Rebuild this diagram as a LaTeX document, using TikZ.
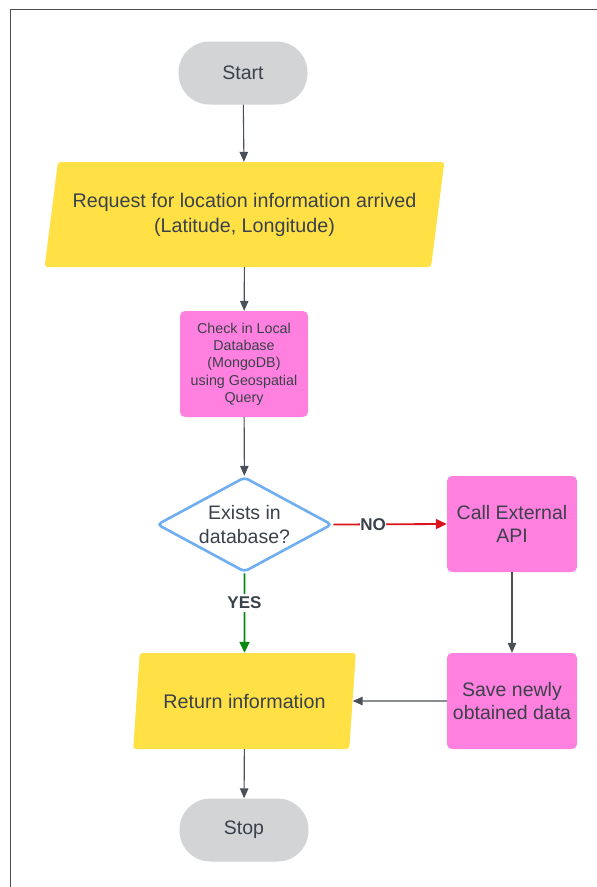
\documentclass[tikz,border=0pt]{standalone}
\usepackage{fontspec}
\setmainfont{Liberation Sans}
\usetikzlibrary{shapes.geometric,arrows.meta}

\definecolor{txt}{HTML}{3A414A}
\definecolor{lineclr}{HTML}{4A5059}
\definecolor{pillgray}{HTML}{D3D4D6}
\definecolor{ioyellow}{HTML}{FFE145}
\definecolor{procpink}{HTML}{FF80DF}
\definecolor{decblue}{HTML}{70AEF2}
\definecolor{noRed}{HTML}{D9141E}
\definecolor{yesGreen}{HTML}{0A8A12}

\tikzset{
  every node/.style={text=txt},
  terminal/.style={rectangle, rounded corners=31pt, fill=pillgray,
    minimum width=129pt, minimum height=63pt, font=\fontsize{19.5}{22}\selectfont},
  iobox/.style={trapezium, trapezium left angle=76, trapezium right angle=104,
    trapezium stretches=true, fill=ioyellow, rounded corners=3pt,
    font=\fontsize{19.7}{25}\selectfont, align=center},
  procbox/.style={rectangle, rounded corners=5pt, fill=procpink, align=center},
  decision/.style={diamond, aspect=1.84, draw=decblue, line width=2.6pt, fill=white,
    rounded corners=4pt, minimum width=175pt, minimum height=95pt, inner sep=-3pt,
    font=\fontsize{19.5}{24}\selectfont, align=center},
  flow/.style={draw=lineclr, line width=1.1pt,
    -{Triangle[length=10pt,width=8.5pt]}},
  branchflow/.style={line width=1.8pt, -{Triangle[length=11pt,width=10pt]}},
  branchlabel/.style={fill=white, font=\fontsize{17}{19}\selectfont\bfseries}
}

\begin{document}
\begin{tikzpicture}[x=1pt,y=-1pt]
  \clip (0,0) rectangle (597,887);
  \fill[white] (0,0) rectangle (597,887);
  % outer frame
  \draw[line width=1.4pt, color=black!70] (10.5,9.5) rectangle (620,910);

  % nodes
  \node[terminal] (start) at (243,73) {Start};
  \node[iobox, minimum width=401pt, minimum height=105pt] (req) at (244.5,214.5)
    {Request for location information arrived\\(Latitude, Longitude)};
  \node[procbox, minimum width=128pt, minimum height=106pt,
        font=\fontsize{14.3}{17.3}\selectfont] (check) at (244,364)
    {Check in Local\\Database\\(MongoDB)\\using Geospatial\\Query};
  \node[decision] (exists) at (244.5,524.5) {Exists in\\database?};
  \node[procbox, minimum width=130pt, minimum height=96pt,
        font=\fontsize{19.5}{23.5}\selectfont] (call) at (512,524)
    {Call External\\API};
  \node[procbox, minimum width=130pt, minimum height=96pt,
        font=\fontsize{19.5}{23.5}\selectfont] (save) at (512,701)
    {Save newly\\obtained data};
  \node[iobox, minimum width=223pt, minimum height=96pt] (ret) at (244.5,701)
    {Return information};
  \node[terminal] (stop) at (244,830) {Stop};

  % connectors
  \draw[flow] (start) -- (req);
  \draw[flow] (req) -- (check);
  \draw[flow] (check) -- (exists);
  \draw[flow, branchflow, draw=noRed, fill=noRed] (exists.east) -- (call.west)
    node[branchlabel, pos=0.35, inner sep=0.3pt] {NO};
  \draw[flow, branchflow, draw=yesGreen, fill=yesGreen] (exists.south) -- (ret.north)
    node[branchlabel, pos=0.37, inner sep=3pt] {YES};
  \draw[flow] (call) -- (save);
  \draw[flow] (save) -- (ret);
  \draw[flow] (ret) -- (stop);
\end{tikzpicture}
\end{document}
